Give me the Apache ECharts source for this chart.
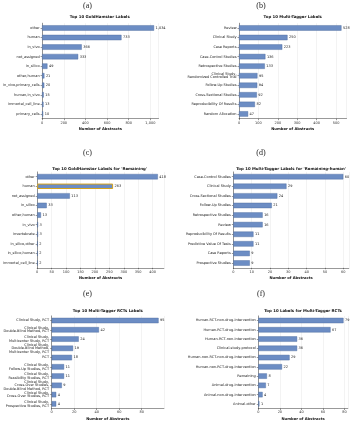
<!DOCTYPE html>
<html>
<head>
<meta charset="utf-8">
<script src="https://cdn.jsdelivr.net/npm/echarts@6/dist/echarts.min.js"></script>
<style>
  html, body { margin: 0; padding: 0; background: #fff; }
  #container { width: 350px; height: 422px; }
</style>
</head>
<body>
<div id="container"></div>
<script>
// (a) Top 10 GoldHamster labels
const catsA = ['other', 'human', 'in_vivo', 'not_assigned', 'in_silico', 'other,human',
  'in_vivo,primary_cells', 'human,in_vivo', 'immortal_cell_line', 'primary_cells']
const valsA = [1034, 733, 366, 333, 49, 21, 20, 15, 13, 10]

// (b) Top 10 Multi-Tagger labels
const catsB = ['Review', 'Clinical Study', 'Case Reports', 'Case-Control Studies', 'Retrospective Studies',
  'Clinical Study,\nRandomized Controlled Trial', 'Follow-Up Studies', 'Cross-Sectional Studies',
  'Reproducibility Of Results', 'Random Allocation']
const valsB = [528, 250, 223, 136, 133, 95, 94, 92, 82, 47]

// (c) GoldHamster labels for 'Remaining'
const catsC = ['other', 'human', 'not_assigned', 'in_silico', 'other,human', 'in_vivo',
  'invertebrate', 'in_silico,other', 'in_silico,human', 'immortal_cell_line']
const valsC = [418, 263, 113, 33, 13, 3, 3, 2, 2, 2]
const highlightC = 'human'

// (d) Multi-Tagger labels for 'Remaining-human'
const catsD = ['Case-Control Studies', 'Clinical Study', 'Cross-Sectional Studies', 'Follow-Up Studies',
  'Retrospective Studies', 'Review', 'Reproducibility Of Results', 'Predictive Value Of Tests',
  'Case Reports', 'Prospective Studies']
const valsD = [60, 29, 24, 21, 16, 16, 11, 11, 9, 9]

// (e) Multi-Tagger RCTs labels
const catsE = ['Clinical Study, RCT', 'Clinical Study,\nDouble-Blind Method, RCT',
  'Clinical Study,\nMulticenter Study, RCT', 'Clinical Study,\nDouble-Blind Method,\nMulticenter Study, RCT',
  'RCT', 'Clinical Study,\nFollow-Up Studies, RCT', 'Clinical Study,\nFeasibility Studies, RCT',
  'Clinical Study,\nCross-Over Studies,\nDouble-Blind Method, RCT', 'Clinical Study,\nCross-Over Studies, RCT',
  'Clinical Study,\nProspective Studies, RCT']
const valsE = [95, 42, 24, 19, 18, 11, 11, 9, 4, 4]

// (f) Labels for Multi-Tagger RCTs
const catsF = ['Human-RCT-non-drug-intervention', 'Human-RCT-drug-intervention', 'Human-RCT-non-intervention',
  'Clinical-study-protocol', 'Human-non-RCT-non-drug-intervention', 'Human-non-RCT-drug-intervention',
  'Remaining', 'Animal-drug-intervention', 'Animal-non-drug-intervention', 'Animal-other']
const valsF = [79, 67, 36, 36, 29, 22, 8, 7, 4, 1]

const titles = [
  'Top 10 GoldHamster Labels',
  'Top 10 Multi-Tagger Labels',
  "Top 10 GoldHamster Labels for 'Remaining'",
  "Top 10 Multi-Tagger Labels for 'Remaining-human'",
  'Top 10 Multi-Tagger RCTs Labels',
  'Top 10 Labels for Multi-Tagger RCTs'
]
const letters = ['(a)', '(b)', '(c)', '(d)', '(e)', '(f)']
const tickStep = [200, 100, 50, 10, 20, 20]
const axisMax = [1075, 554, 439, 63, 99.75, 83]

// layout per panel: plot box + title / letter rows
const boxes = [
  { left: 41, top: 23.2, width: 117.5, height: 95.5, titleY: 17.5, letterY: 5.5, letterX: 87.5 },
  { left: 239, top: 23.2, width: 107.5, height: 95.5, titleY: 17.5, letterY: 5.5, letterX: 261 },
  { left: 35.3, top: 171.9, width: 128.6, height: 95.9, titleY: 169, letterY: 153, letterX: 87.5 },
  { left: 233.3, top: 171.9, width: 115.5, height: 95.9, titleY: 169, letterY: 153, letterX: 261 },
  { left: 51.7, top: 315.9, width: 112.2, height: 96, titleY: 310.7, letterY: 294, letterX: 87.5 },
  { left: 258.3, top: 315.9, width: 89.5, height: 96, titleY: 310.7, letterY: 294, letterX: 261 }
]

const cats = [catsA, catsB, catsC, catsD, catsE, catsF]
const vals = [valsA, valsB, valsC, valsD, valsE, valsF]

const barColor = '#6c8dc4'
const barBorder = '#4a6899'
const font = 'DejaVu Sans'

const dom = document.getElementById('container')
const myChart = echarts.init(dom, null, { renderer: 'canvas' })

const grid = []
const xAxis = []
const yAxis = []
const series = []
const title = []

boxes.forEach((b, i) => {
  grid.push({ left: b.left, top: b.top, width: b.width, height: b.height, containLabel: false })
  title.push({
    text: titles[i],
    left: b.left + b.width / 2,
    top: b.titleY - 2.2,
    padding: 0,
    textAlign: 'center',
    textStyle: { fontFamily: font, fontSize: 3.9, fontWeight: 'bold', color: '#111' }
  })
  title.push({
    text: letters[i],
    left: b.letterX,
    top: b.letterY - 4,
    padding: 0,
    textAlign: 'center',
    textStyle: { fontFamily: 'Liberation Serif', fontSize: 8, fontWeight: 'normal', color: '#222' }
  })
  xAxis.push({
    type: 'value',
    gridIndex: i,
    min: 0,
    max: axisMax[i],
    interval: tickStep[i],
    name: 'Number of Abstracts',
    nameLocation: 'middle',
    nameGap: 8.5,
    nameTextStyle: { fontFamily: font, fontSize: 3.7, fontWeight: 'bold', color: '#111' },
    axisLine: { show: true, lineStyle: { color: '#333', width: 0.5 } },
    axisTick: { show: true, length: 1.5, lineStyle: { color: '#333', width: 0.5 } },
    axisLabel: {
      fontFamily: font, fontSize: 3.5, color: '#333', margin: 2,
      showMaxLabel: false,
      formatter: v => (v % tickStep[i] === 0 ? v.toLocaleString('en-US') : '')
    },
    splitLine: { show: true, lineStyle: { color: '#e6e6e6', width: 0.5 } }
  })
  yAxis.push({
    type: 'category',
    gridIndex: i,
    inverse: true,
    data: cats[i],
    axisLine: { show: true, lineStyle: { color: '#333', width: 0.5 } },
    axisTick: { show: true, length: 1.5, alignWithLabel: true, lineStyle: { color: '#333', width: 0.5 } },
    axisLabel: {
      fontFamily: font, fontSize: 3.5, lineHeight: 3.6, color: '#222', margin: 2.5, interval: 0
    }
  })
  series.push({
    type: 'bar',
    xAxisIndex: i,
    yAxisIndex: i,
    barWidth: 5.4,
    data: vals[i].map((v, j) => {
      if (i === 2 && cats[i][j] === highlightC) {
        return { value: v, itemStyle: { borderColor: '#d4a21c', borderWidth: 1 } }
      }
      return v
    }),
    itemStyle: { color: barColor, borderColor: barBorder, borderWidth: 0.4 },
    label: {
      show: true,
      position: 'right',
      distance: 1.5,
      fontFamily: font,
      fontSize: 3.5,
      color: '#222',
      formatter: p => p.value.toLocaleString('en-US')
    },
    animation: false
  })
})

const option = {
  backgroundColor: '#fff',
  animation: false,
  title,
  grid,
  xAxis,
  yAxis,
  series
}

myChart.setOption(option)
</script>
</body>
</html>
